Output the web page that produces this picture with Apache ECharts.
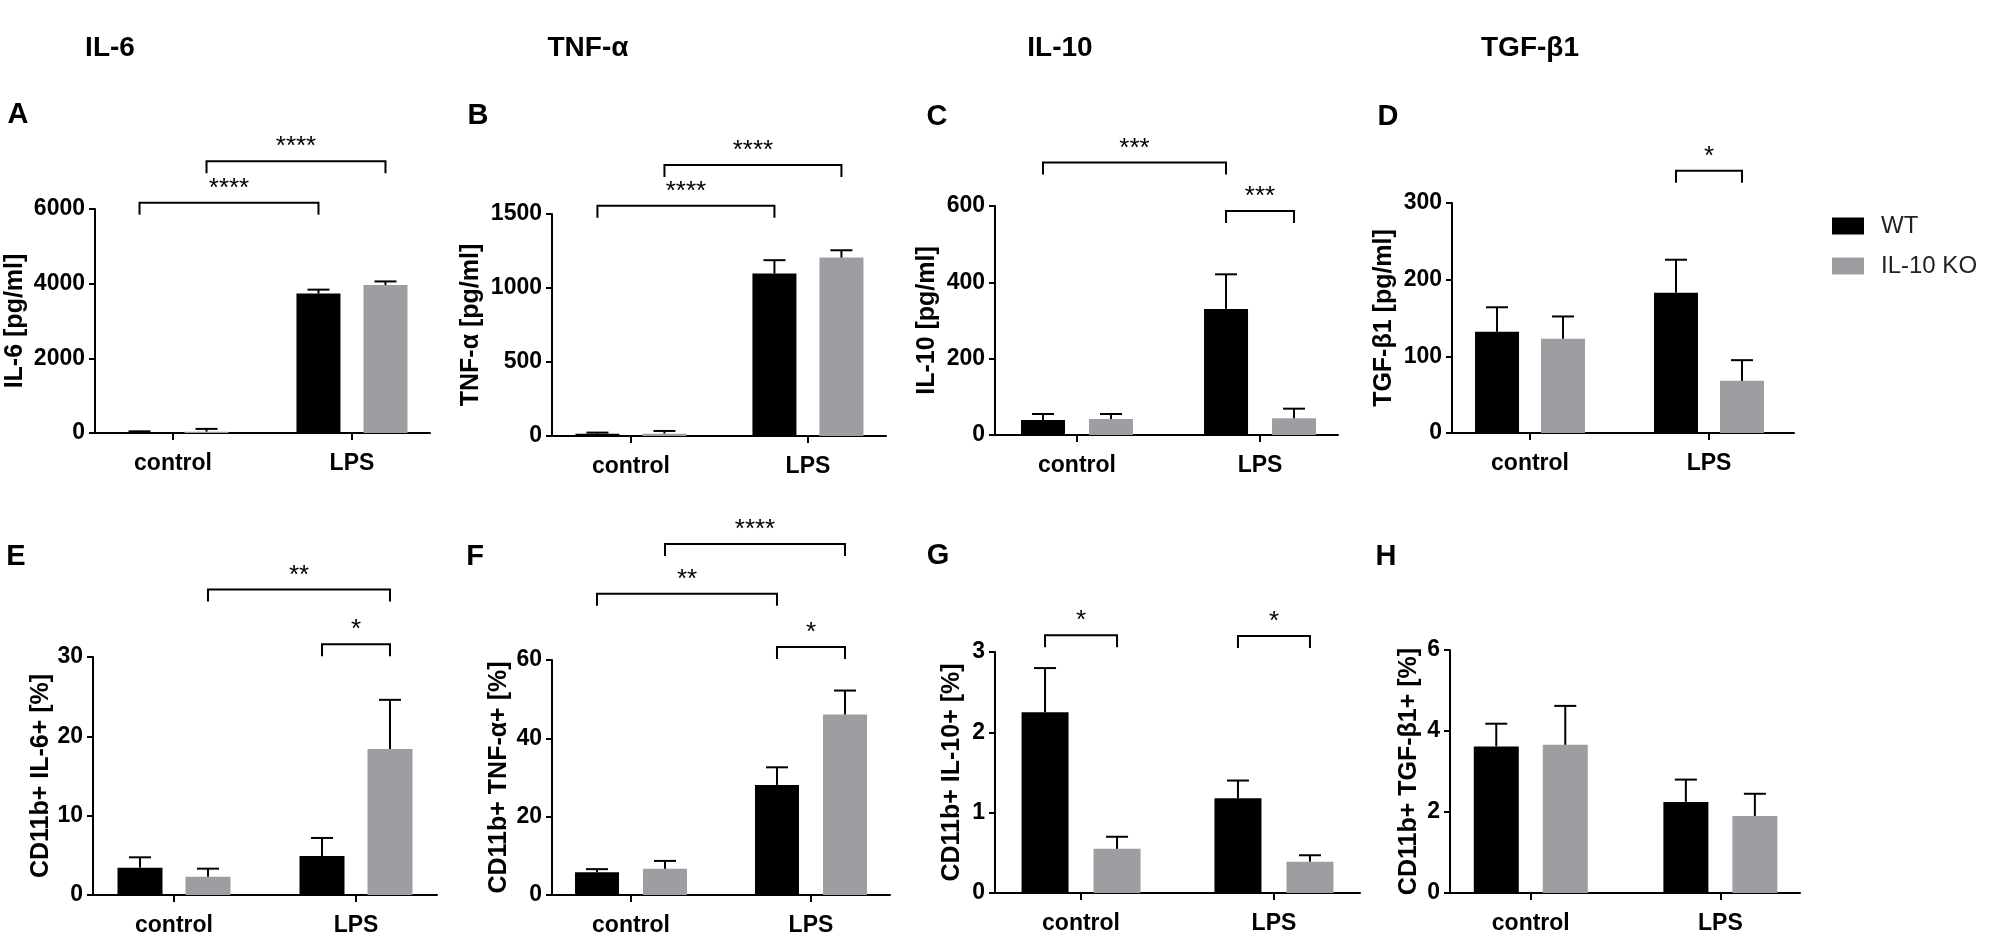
<!DOCTYPE html>
<html>
<head>
<meta charset="utf-8">
<script src="https://cdn.jsdelivr.net/npm/echarts@6/dist/echarts.min.js"></script>
<style>
html, body { margin: 0; padding: 0; background: #fff; }
#main { width: 2000px; height: 939px; }
</style>
</head>
<body>
<div id="main"></div>
<script>
var categories = ['control', 'LPS'];
var groupNames = ['WT', 'IL-10 KO'];
var columnTitles = ['IL-6', 'TNF-α', 'IL-10', 'TGF-β1'];
var panelLetters = ['A', 'B', 'C', 'D', 'E', 'F', 'G', 'H'];
var yNames = ['IL-6 [pg/ml]', 'TNF-α [pg/ml]', 'IL-10 [pg/ml]', 'TGF-β1 [pg/ml]',
    'CD11b+ IL-6+ [%]', 'CD11b+ TNF-α+ [%]', 'CD11b+ IL-10+ [%]', 'CD11b+ TGF-β1+ [%]'];
var yMax = [6000, 1500, 600, 300, 30, 60, 3, 6];
var yStep = [2000, 500, 200, 100, 10, 20, 1, 2];

// mean and mean+SEM, [control, LPS]
var il6Wt = [15, 3735], il6WtUp = [45, 3840];
var il6Ko = [35, 3965], il6KoUp = [110, 4060];
var tnfWt = [15, 1098], tnfWtUp = [23, 1188];
var tnfKo = [16, 1206], tnfKoUp = [34, 1255];
var il10Wt = [39, 330], il10WtUp = [55, 421];
var il10Ko = [42, 44], il10KoUp = [55, 69];
var tgfWt = [132, 183], tgfWtUp = [164, 226];
var tgfKo = [123, 68], tgfKoUp = [152, 95];
var cdIl6Wt = [3.44, 4.92], cdIl6WtUp = [4.75, 7.19];
var cdIl6Ko = [2.31, 18.4], cdIl6KoUp = [3.32, 24.6];
var cdTnfWt = [5.8, 28.1], cdTnfWtUp = [6.6, 32.6];
var cdTnfKo = [6.7, 46.1], cdTnfKoUp = [8.7, 52.2];
var cdIl10Wt = [2.25, 1.18], cdIl10WtUp = [2.80, 1.40];
var cdIl10Ko = [0.55, 0.39], cdIl10KoUp = [0.70, 0.47];
var cdTgfWt = [3.62, 2.25], cdTgfWtUp = [4.18, 2.80];
var cdTgfKo = [3.66, 1.90], cdTgfKoUp = [4.62, 2.45];

// significance brackets: [cat from, group from, cat to, group to, height, stars]
var il6Sig = [[0, 0, 1, 0, 6170, '****'], [0, 1, 1, 1, 7280, '****']];
var tnfSig = [[0, 0, 1, 0, 1556, '****'], [0, 1, 1, 1, 1831, '****']];
var il10Sig = [[0, 0, 1, 0, 714, '***'], [1, 0, 1, 1, 587, '***']];
var tgfSig = [[1, 0, 1, 1, 342, '*']];
var cdIl6Sig = [[0, 1, 1, 1, 38.5, '**'], [1, 0, 1, 1, 31.6, '*']];
var cdTnfSig = [[0, 0, 1, 0, 76.9, '**'], [0, 1, 1, 1, 89.6, '****'], [1, 0, 1, 1, 63.3, '*']];
var cdIl10Sig = [[0, 0, 0, 1, 3.21, '*'], [1, 0, 1, 1, 3.20, '*']];
var cdTgfSig = [];

var panels = [
    [il6Wt, il6WtUp, il6Ko, il6KoUp, il6Sig],
    [tnfWt, tnfWtUp, tnfKo, tnfKoUp, tnfSig],
    [il10Wt, il10WtUp, il10Ko, il10KoUp, il10Sig],
    [tgfWt, tgfWtUp, tgfKo, tgfKoUp, tgfSig],
    [cdIl6Wt, cdIl6WtUp, cdIl6Ko, cdIl6KoUp, cdIl6Sig],
    [cdTnfWt, cdTnfWtUp, cdTnfKo, cdTnfKoUp, cdTnfSig],
    [cdIl10Wt, cdIl10WtUp, cdIl10Ko, cdIl10KoUp, cdIl10Sig],
    [cdTgfWt, cdTgfWtUp, cdTgfKo, cdTgfKoUp, cdTgfSig]
];

// layout: axis x0, axis x1, top, zero, x min, x max, bar width, bar pair distance, name gap
var boxes = [
    [95, 430, 209, 433, -0.436, 1.436, 44, 67, 67],
    [552, 886, 214, 436, -0.446, 1.441, 44, 67, 68],
    [995, 1338, 206, 435, -0.448, 1.426, 44, 68, 55],
    [1452, 1794, 203, 433, -0.436, 1.475, 44, 66, 55],
    [93, 437, 657, 895, -0.445, 1.445, 45, 68, 38],
    [552, 890, 660, 895, -0.439, 1.439, 44, 68, 40],
    [995, 1360, 652, 893, -0.446, 1.446, 47, 72, 30],
    [1450, 1800, 650, 893, -0.426, 1.42, 45, 69, 28]
];
var letterPos = [[18, 115], [478, 116], [937, 117], [1388, 117],
    [16, 557], [475, 557], [938, 556], [1386, 557]];
var titlePos = [[110, 48], [588, 48], [1060, 48], [1530, 48]];

var FONT = '"Liberation Sans", Arial, sans-serif';
var barColors = ['#000000', '#9e9ea2'];

var myChart = echarts.init(document.getElementById('main'), null, {renderer: 'canvas'});

function errorRender(pair, capW) {
    return function (params, api) {
        var cat = api.value(0);
        var g = api.value(3);
        var base = api.coord([cat, api.value(1)]);
        var top = api.coord([cat, api.value(2)]);
        var x = base[0] + (g ? 1 : -1) * pair / 2;
        var st = {stroke: '#000', lineWidth: 2};
        return {
            type: 'group',
            children: [
                {type: 'line', shape: {x1: x, y1: base[1], x2: x, y2: top[1]}, style: st},
                {type: 'line', shape: {x1: x - capW / 2, y1: top[1], x2: x + capW / 2, y2: top[1]}, style: st}
            ]
        };
    };
}

function bracketRender(pair, sig) {
    return function (params, api) {
        var y = api.coord([0, api.value(4)])[1];
        var xa = api.coord([api.value(0), 0])[0] + (api.value(1) ? 1 : -1) * pair / 2;
        var xb = api.coord([api.value(2), 0])[0] + (api.value(3) ? 1 : -1) * pair / 2;
        return {
            type: 'group',
            children: [
                {
                    type: 'polyline',
                    shape: {points: [[xa, y + 12], [xa, y], [xb, y], [xb, y + 12]]},
                    style: {stroke: '#000', lineWidth: 2, fill: null}
                },
                {
                    type: 'text',
                    x: (xa + xb) / 2,
                    y: y - 14,
                    style: {
                        text: sig[params.dataIndex][5],
                        fill: '#000',
                        font: '26px ' + FONT,
                        textAlign: 'center',
                        textVerticalAlign: 'middle'
                    }
                }
            ]
        };
    };
}

var grids = [], xAxes = [], yAxes = [], series = [], graphics = [];

panels.forEach(function (p, i) {
    var b = boxes[i];
    grids.push({left: b[0], top: b[2], width: b[1] - b[0], height: b[3] - b[2]});
    xAxes.push({
        type: 'value', gridIndex: i, min: b[4], max: b[5],
        axisLine: {show: true, onZero: false, lineStyle: {color: '#000', width: 2}},
        axisTick: {show: true, customValues: [0, 1], length: 7, lineStyle: {color: '#000', width: 2}},
        axisLabel: {
            show: true, customValues: [0, 1], margin: 19,
            formatter: function (v) { return categories[Math.round(v)]; },
            color: '#000', fontSize: 23, fontWeight: 'bold', fontFamily: FONT
        },
        splitLine: {show: false}
    });
    yAxes.push({
        type: 'value', gridIndex: i, min: 0, max: yMax[i], interval: yStep[i],
        name: yNames[i], nameLocation: 'middle', nameGap: b[8],
        nameTextStyle: {color: '#000', fontSize: 25, fontWeight: 'bold', fontFamily: FONT},
        axisLine: {show: true, onZero: false, lineStyle: {color: '#000', width: 2}},
        axisTick: {show: true, length: 6, lineStyle: {color: '#000', width: 2}},
        axisLabel: {
            color: '#000', fontSize: 23, fontWeight: 'bold', fontFamily: FONT, margin: 10,
            formatter: function (v) { return String(v); }
        },
        splitLine: {show: false}
    });
    var gap = ((b[7] - b[6]) / b[6] * 100).toFixed(1) + '%';
    [0, 1].forEach(function (g) {
        var means = p[g * 2];
        series.push({
            type: 'bar', name: groupNames[g], xAxisIndex: i, yAxisIndex: i,
            barWidth: b[6], barGap: gap,
            itemStyle: {color: barColors[g]},
            silent: true,
            data: means.map(function (v, c) { return [c, v]; })
        });
    });
    var errData = [];
    [0, 1].forEach(function (g) {
        p[g * 2].forEach(function (v, c) { errData.push([c, v, p[g * 2 + 1][c], g]); });
    });
    series.push({
        type: 'custom', xAxisIndex: i, yAxisIndex: i, silent: true, clip: false, z: 5,
        renderItem: errorRender(b[7], 22), data: errData
    });
    if (p[4].length) {
        series.push({
            type: 'custom', xAxisIndex: i, yAxisIndex: i, silent: true, clip: false, z: 5,
            renderItem: bracketRender(b[7], p[4]),
            data: p[4].map(function (s) { return [s[0], s[1], s[2], s[3], s[4]]; })
        });
    }
    graphics.push({
        type: 'text', x: letterPos[i][0], y: letterPos[i][1],
        style: {text: panelLetters[i], fill: '#000', font: 'bold 29px ' + FONT,
            textAlign: 'center', textVerticalAlign: 'middle'}
    });
});

columnTitles.forEach(function (t, i) {
    graphics.push({
        type: 'text', x: titlePos[i][0], y: titlePos[i][1],
        style: {text: t, fill: '#000', font: 'bold 28px "Liberation Sans Narrow", ' + FONT,
            textAlign: 'center', textVerticalAlign: 'middle'}
    });
});

var option = {
    animation: false,
    backgroundColor: '#fff',
    grid: grids,
    xAxis: xAxes,
    yAxis: yAxes,
    legend: {
        data: [{name: 'WT', icon: 'rect'}, {name: 'IL-10 KO', icon: 'rect'}],
        orient: 'vertical', left: 1827, top: 209,
        itemWidth: 32, itemHeight: 17, itemGap: 16,
        selectedMode: false,
        textStyle: {color: '#222', fontSize: 24, fontFamily: FONT, padding: [0, 0, 0, 12]}
    },
    graphic: graphics,
    series: series
};
myChart.setOption(option);
</script>
</body>
</html>
